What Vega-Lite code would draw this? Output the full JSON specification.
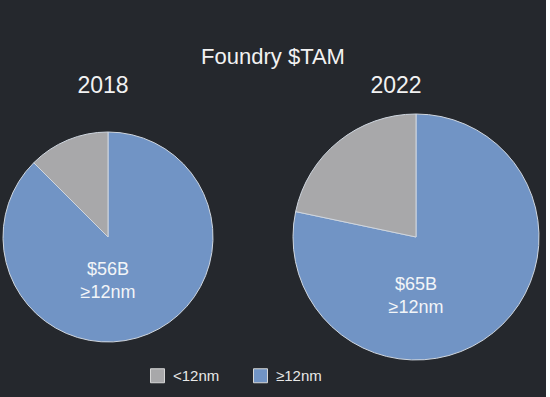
{
  "$schema": "https://vega.github.io/schema/vega-lite/v6.json",
  "background": "#25282d",
  "padding": {"left": 0, "right": 0, "top": 46, "bottom": 14},
  "data": {"values": [
    {"year": 2018, "segment": "≥12nm", "value": 56, "label": "$56B\n≥12nm"},
    {"year": 2018, "segment": "<12nm", "value": 8, "label": ""},
    {"year": 2022, "segment": "≥12nm", "value": 65, "label": "$65B\n≥12nm"},
    {"year": 2022, "segment": "<12nm", "value": 18, "label": ""}
  ]},
  "title": {"text": "Foundry $TAM", "fontSize": 22, "font": "Liberation Sans", "fontWeight": "normal", "color": "#f2f2f2", "anchor": "middle", "offset": 6},
  "spacing": 70,
  "hconcat": [
    {
      "title": {"text": "2018", "fontSize": 23, "font": "Liberation Sans", "fontWeight": "normal", "color": "#f2f2f2", "anchor": "middle", "dx": -5, "offset": 14},
      "width": 216,
      "height": 250,
      "transform": [{"filter": "datum.year == 2018"}],
      "layer": [
        {
          "mark": {"type": "arc", "outerRadius": 105, "stroke": "#cfd6df", "strokeWidth": 1},
          "encoding": {
            "theta": {"field": "value", "type": "quantitative", "stack": true},
            "color": {"field": "segment", "type": "nominal"},
            "order": {"field": "segment", "sort": "descending"}
          }
        },
        {
          "transform": [{"filter": "datum.label != ''"}],
          "mark": {"type": "text", "lineBreak": "\n", "fontSize": 18, "font": "Liberation Sans", "dy": 33, "color": "#f2f5f8", "lineHeight": 23},
          "encoding": {"text": {"field": "label", "type": "nominal"}}
        }
      ]
    },
    {
      "title": {"text": "2022", "fontSize": 23, "font": "Liberation Sans", "fontWeight": "normal", "color": "#f2f2f2", "anchor": "middle", "dx": -20, "offset": 14},
      "width": 260,
      "height": 250,
      "transform": [{"filter": "datum.year == 2022"}],
      "layer": [
        {
          "mark": {"type": "arc", "outerRadius": 123, "stroke": "#cfd6df", "strokeWidth": 1},
          "encoding": {
            "theta": {"field": "value", "type": "quantitative", "stack": true},
            "color": {"field": "segment", "type": "nominal"},
            "order": {"field": "segment", "sort": "descending"}
          }
        },
        {
          "transform": [{"filter": "datum.label != ''"}],
          "mark": {"type": "text", "lineBreak": "\n", "fontSize": 18, "font": "Liberation Sans", "dy": 48, "color": "#f2f5f8", "lineHeight": 23},
          "encoding": {"text": {"field": "label", "type": "nominal"}}
        }
      ]
    }
  ],
  "resolve": {"scale": {"color": "shared", "theta": "independent"}},
  "config": {
    "view": {"stroke": null},
    "range": {"category": ["#a8a8aa", "#7194c5"]},
    "legend": {
      "orient": "none",
      "legendX": 150,
      "legendY": 256,
      "direction": "horizontal",
      "title": null,
      "symbolType": "square",
      "symbolSize": 196,
      "symbolStrokeColor": "#d6d6d6",
      "symbolStrokeWidth": 1,
      "labelFontSize": 15,
      "labelFont": "Liberation Sans",
      "labelColor": "#e8e8e8",
      "labelOffset": 8,
      "columnPadding": 31
    }
  }
}
